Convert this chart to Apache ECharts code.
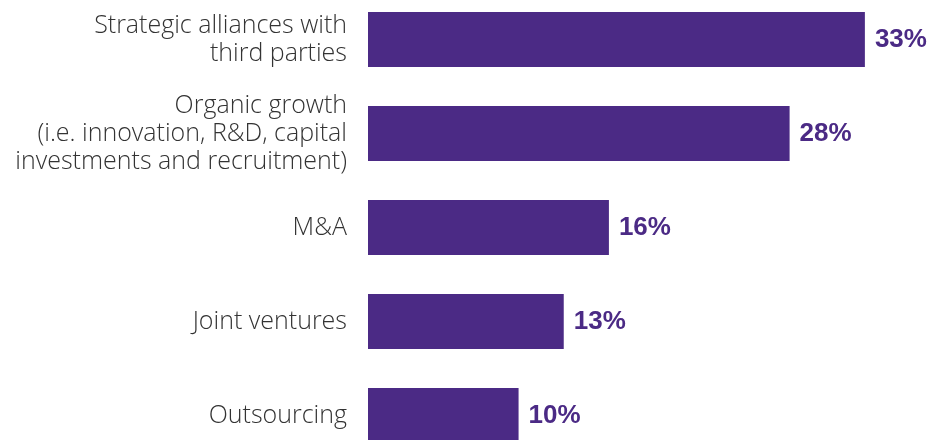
<!DOCTYPE html>
<html>
<head>
<meta charset="utf-8">
<script src="https://cdn.jsdelivr.net/npm/echarts@6/dist/echarts.min.js"></script>
<style>html,body{margin:0;padding:0;background:#fff}#c{width:945px;height:440px}</style>
</head>
<body>
<div id="c"></div>
<script>
var categories = [
  "Strategic alliances with\nthird parties",
  "Organic growth\n(i.e. innovation, R&D, capital\ninvestments and recruitment)",
  "M&A",
  "Joint ventures",
  "Outsourcing"
];
var values = [33, 28, 16, 13, 10];

var chart = echarts.init(document.getElementById('c'), null, {renderer: 'canvas'});
chart.setOption({
  animation: false,
  grid: {left: 368, width: 527, top: -7.5, height: 470, outerBoundsMode: 'none', containLabel: false},
  xAxis: {type: 'value', min: 0, max: 35, show: false},
  yAxis: {
    type: 'category', data: categories, inverse: true,
    axisLine: {show: false}, axisTick: {show: false}, splitLine: {show: false},
    axisLabel: {
      margin: 21, align: 'right',
      fontFamily: 'Open Sans', fontWeight: 300, fontSize: 25, lineHeight: 28, color: '#333333'
    }
  },
  series: [{
    type: 'bar', data: values, barWidth: 55,
    itemStyle: {color: '#4b2a85'},
    label: {
      show: true, position: 'right', distance: 10,
      formatter: '{c}%',
      fontFamily: 'Liberation Sans', fontWeight: 'bold', fontSize: 26, color: '#4b2a85'
    }
  }]
});
</script>
</body>
</html>
